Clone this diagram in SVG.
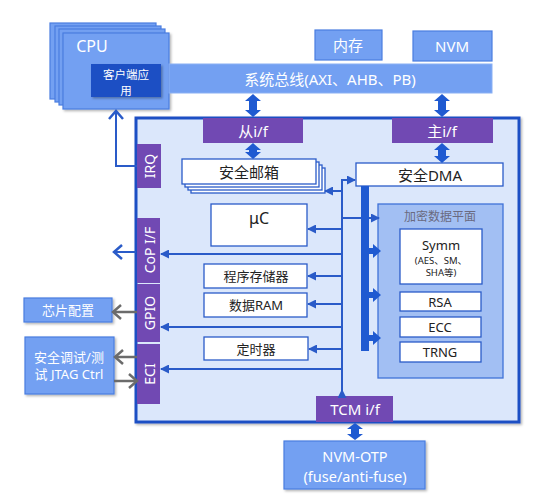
<svg xmlns="http://www.w3.org/2000/svg" width="543" height="499" viewBox="0 0 543 499">
<defs>
<filter id="sh" x="-10%" y="-10%" width="130%" height="130%"><feDropShadow dx="1.5" dy="1.5" stdDeviation="1" flood-color="#000" flood-opacity="0.3"/></filter>
<marker id="tri" markerUnits="userSpaceOnUse" markerWidth="9" markerHeight="9" refX="8" refY="4.5" orient="auto"><path d="M0,0 L9,4.5 L0,9 z" fill="#2a5bc8"/></marker>
<marker id="chev" markerUnits="userSpaceOnUse" markerWidth="12" markerHeight="16" refX="9" refY="8" orient="auto"><path d="M1,1 L9,8 L1,15" fill="none" stroke="#2a5bc8" stroke-width="2.5"/></marker>
<marker id="chevg" markerUnits="userSpaceOnUse" markerWidth="12" markerHeight="16" refX="9" refY="8" orient="auto"><path d="M1,1 L9,8 L1,15" fill="none" stroke="#6b6b6b" stroke-width="2.5"/></marker>
</defs>
<style>
text{font-family:"Noto Sans","Noto Sans CJK SC",sans-serif;text-anchor:middle;dominant-baseline:central}
.lb{fill:#73a0f2;stroke:#4a7de0;stroke-width:1.2}
.pu{fill:#7149b3}
.wb{fill:#fff;stroke:#2a5bc8;stroke-width:1.3}
.wt{fill:#fff}
.kt{fill:#222}
.ln{fill:none;stroke:#2a5bc8;stroke-width:2}
.lg{fill:none;stroke:#6b6b6b;stroke-width:2.5}
.tk{fill:#1f5ad1}
</style>

<g id="cpu">
<rect x="50" y="23" width="106" height="76" class="lb"/>
<rect x="55" y="26" width="106" height="76" class="lb"/>
<rect x="59" y="29" width="106" height="76" class="lb"/>
<rect x="63" y="33" width="106" height="76" class="lb" filter="url(#sh)"/>
<text x="92" y="46" class="wt" font-size="16">CPU</text>
</g>
<g id="bus">
<rect x="169" y="64" width="323" height="29" fill="#73a0f2" stroke="#8ab0f4" stroke-width="1"/>
<text x="330" y="79" class="wt" font-size="15">系统总线(AXI、AHB、PB)</text>
</g>
<g id="client">
<rect x="91" y="64" width="70" height="33" fill="#1f50c4" filter="url(#sh)"/>
<text x="126" y="74" class="wt" font-size="11.5">客户端应</text>
<text x="126" y="90" class="wt" font-size="11.5">用</text>
</g>
<g id="mem">
<rect x="315" y="30" width="67" height="30" class="lb"/>
<text x="348" y="45" class="wt" font-size="15">内存</text>
</g>
<g id="nvm">
<rect x="413" y="31" width="79" height="30" class="lb"/>
<text x="452" y="46" class="wt" font-size="15">NVM</text>
</g>

<g id="secblock">
<rect x="136" y="118" width="383" height="304" fill="#dbe7fb" stroke="#1f50c4" stroke-width="3" filter="url(#sh)"/>
</g>
<g id="slave-if">
<rect x="203" y="118" width="100" height="25" class="pu"/>
<text x="253" y="131" class="wt" font-size="15">从i/f</text>
</g>
<g id="master-if">
<rect x="392" y="118" width="101" height="25" class="pu"/>
<text x="442" y="131" class="wt" font-size="15">主i/f</text>
</g>
<g id="mailbox">
<rect x="191" y="168" width="134" height="25" class="wb" fill="#fff"/>
<rect x="188" y="165" width="134" height="25" class="wb"/>
<rect x="185" y="162" width="134" height="25" class="wb"/>
<rect x="182" y="159" width="134" height="25" class="wb"/>
<text x="249" y="172" class="kt" font-size="15">安全邮箱</text>
</g>
<g id="dma">
<rect x="356" y="163" width="147" height="23" class="wb"/>
<text x="430" y="175" class="kt" font-size="15">安全DMA</text>
</g>
<g id="uc">
<rect x="211" y="204" width="96" height="42" class="wb"/>
<text x="259" y="218" class="kt" font-size="16">μC</text>
</g>
<g id="progmem">
<rect x="204" y="264" width="103" height="24" class="wb"/>
<text x="256" y="276" class="kt" font-size="13">程序存储器</text>
</g>
<g id="ram">
<rect x="204" y="293" width="103" height="24" class="wb"/>
<text x="256" y="305" class="kt" font-size="13">数据RAM</text>
</g>
<g id="timer">
<rect x="204" y="337" width="104" height="23" class="wb"/>
<text x="256" y="349" class="kt" font-size="13">定时器</text>
</g>
<g id="crypto">
<rect x="378" y="204" width="125" height="174" fill="#a2bff3" stroke="#3f72d8" stroke-width="1.3"/>
<text x="440" y="216" fill="#6a6a80" font-size="12">加密数据平面</text>
</g>
<g id="symm">
<rect x="400" y="229" width="82" height="55" class="wb"/>
<text x="441" y="245" class="kt" font-size="13">Symm</text>
<text x="441" y="260" class="kt" font-size="9.5">(AES、SM、</text>
<text x="441" y="272" class="kt" font-size="9.5">SHA等)</text>
</g>
<g id="rsa">
<rect x="400" y="292" width="81" height="19" class="wb"/>
<text x="440" y="302" class="kt" font-size="13">RSA</text>
</g>
<g id="ecc">
<rect x="400" y="317" width="81" height="20" class="wb"/>
<text x="440" y="327" class="kt" font-size="13">ECC</text>
</g>
<g id="trng">
<rect x="400" y="342" width="81" height="20" class="wb"/>
<text x="440" y="352" class="kt" font-size="13">TRNG</text>
</g>
<g id="irq">
<rect x="137" y="144" width="24" height="44" class="pu"/>
<text transform="translate(149,166) rotate(-90)" class="wt" font-size="14">IRQ</text>
</g>
<g id="cop">
<rect x="137" y="218" width="23" height="65" class="pu"/>
<text transform="translate(149,250) rotate(-90)" class="wt" font-size="14">CoP I/F</text>
</g>
<g id="gpio">
<rect x="137" y="284" width="23" height="58" class="pu"/>
<text transform="translate(149,313) rotate(-90)" class="wt" font-size="14">GPIO</text>
</g>
<g id="eci">
<rect x="137" y="344" width="23" height="60" class="pu"/>
<text transform="translate(149,374) rotate(-90)" class="wt" font-size="14">ECI</text>
</g>
<g id="tcm">
<rect x="316" y="396" width="77" height="26" class="pu"/>
<text x="355" y="409" class="wt" font-size="15">TCM i/f</text>
</g>
<g id="chipcfg">
<rect x="24" y="298" width="88" height="24" class="lb" filter="url(#sh)"/>
<text x="68" y="310" class="wt" font-size="13">芯片配置</text>
</g>
<g id="jtag">
<rect x="25" y="337" width="89" height="57" class="lb" filter="url(#sh)"/>
<text x="69" y="357" class="wt" font-size="13">安全调试/测</text>
<text x="69" y="374" class="wt" font-size="13">试 JTAG Ctrl</text>
</g>
<g id="nvmotp">
<rect x="284" y="441" width="141" height="48" class="lb" filter="url(#sh)"/>
<text x="355" y="456" class="wt" font-size="14.5">NVM-OTP</text>
<text x="355" y="476" class="wt" font-size="14.5">(fuse/anti-fuse)</text>
</g>

<g id="connectors">
<path class="ln" d="M137,166 H116 V111" marker-end="url(#chev)"/>
<path class="ln" d="M136,252 H114" marker-end="url(#chev)"/>
<path class="lg" d="M137,312 H113" marker-end="url(#chevg)"/>
<path class="lg" d="M137,357 H115" marker-end="url(#chevg)"/>
<path class="lg" d="M114,381 H137" marker-end="url(#chevg)"/>
<path class="ln" d="M342,393 V180 H355" marker-end="url(#tri)"/>
<path class="ln" d="M342,396 V390" marker-end="url(#tri)"/>
<path class="ln" d="M342,191 H325" marker-end="url(#tri)"/>
<path class="ln" d="M342,229 H308" marker-end="url(#tri)"/>
<path class="ln" d="M342,254 H161" marker-end="url(#tri)"/>
<path class="ln" d="M342,276 H308" marker-end="url(#tri)"/>
<path class="ln" d="M342,304 H308" marker-end="url(#tri)"/>
<path class="ln" d="M342,327 H161" marker-end="url(#tri)"/>
<path class="ln" d="M342,349 H309" marker-end="url(#tri)"/>
<path class="ln" d="M342,369 H161" marker-end="url(#tri)"/>
<path class="ln" d="M342,218 H379" marker-end="url(#tri)"/>
<rect x="361" y="186" width="8" height="165" class="tk"/>
<polygon class="tk" points="369,248 373,248 373,244 381,251 373,258 373,254 369,254"/>
<polygon class="tk" points="369,292 373,292 373,288 381,295 373,302 373,298 369,298"/>
<polygon class="tk" points="369,335 373,335 373,331 381,338 373,345 373,341 369,341"/>
<polygon class="tk" points="253,94 261,101 257,101 257,110 261,110 253,117 245,110 249,110 249,101 245,101"/>
<polygon class="tk" points="253,143 261,150 257,150 257,152 261,152 253,159 245,152 249,152 249,150 245,150"/>
<polygon class="tk" points="442,94 450,101 446,101 446,110 450,110 442,117 434,110 438,110 438,101 434,101"/>
<polygon class="tk" points="442,143 450,150 446,150 446,156 450,156 442,163 434,156 438,156 438,150 434,150"/>
<polygon class="tk" points="355,423 363,429 359,429 359,434 363,434 355,440 347,434 351,434 351,429 347,429"/>
</g>
</svg>
